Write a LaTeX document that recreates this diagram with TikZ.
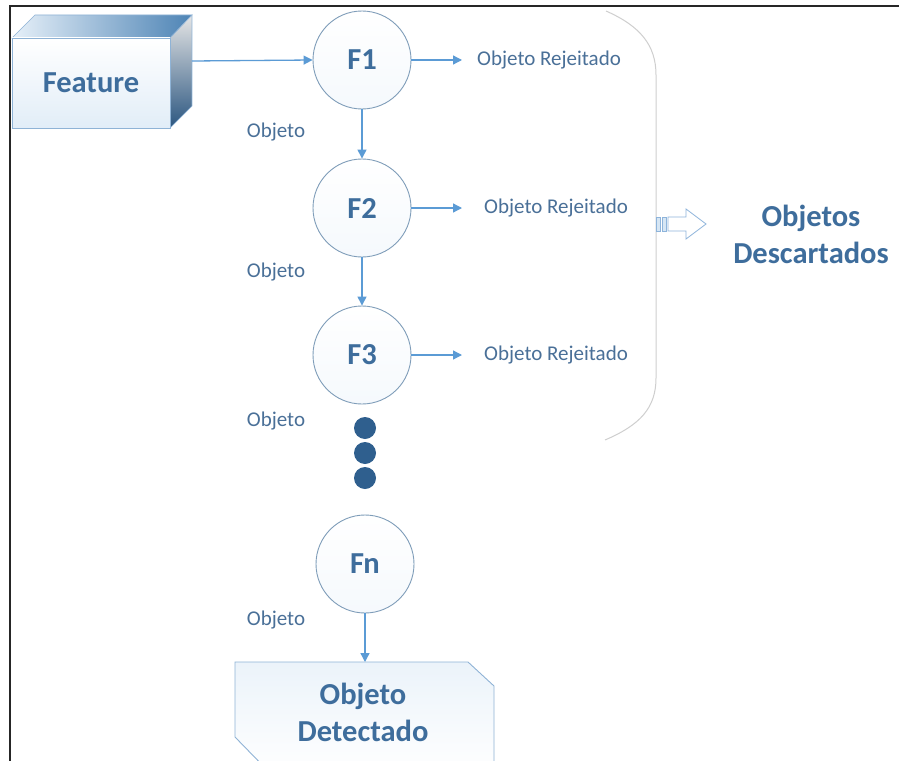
\documentclass[tikz,border=0pt]{standalone}
\usepackage{fontspec}
\setmainfont{Carlito}
\usetikzlibrary{arrows.meta}
\definecolor{txtblue}{HTML}{3E6D9C}
\definecolor{lblblue}{HTML}{4A7098}
\definecolor{linkblue}{HTML}{5B9BD5}
\definecolor{ringgray}{HTML}{7F9DB9}
\definecolor{dotblue}{HTML}{2F5F8E}
\definecolor{bracketgray}{HTML}{CFCFCF}
\definecolor{hollowblue}{HTML}{8EB4DB}
\definecolor{boxedge}{HTML}{8FB3D6}
\tikzset{
  link/.style={draw=linkblue, line width=1.3pt, -{Triangle[length=9pt,width=9pt]}},
  stage/.style={circle, draw=ringgray, line width=0.9pt, minimum size=98pt, inner sep=0pt,
    top color=white, bottom color=white!94!linkblue, text=txtblue,
    font=\fontsize{30.5}{32}\selectfont\bfseries},
  bigtxt/.style={text=txtblue, font=\fontsize{30.5}{37}\selectfont\bfseries, align=center, inner sep=0pt},
  lbl/.style={text=lblblue, font=\fontsize{21}{23}\selectfont, inner sep=0pt},
  dot/.style={circle, fill=dotblue, minimum size=22pt, inner sep=0pt},
}
\begin{document}
\begin{tikzpicture}[x=1pt,y=-1pt]
\useasboundingbox (0,0) rectangle (899,760);
\clip (0,0) rectangle (899,760);
\fill[white] (0,0) rectangle (899,760);

% outer frame (open on the right and at the bottom)
\draw[black!85, line width=1.6pt] (10,770) -- (10,6) -- (905,6);

% Feature block drawn as a shaded 3D box
\shade[left color=white!85!linkblue, right color=linkblue!85!black, draw=boxedge, line width=0.6pt]
  (12,38) -- (35,15) -- (192,15) -- (170,38) -- cycle;
\shade[top color=white!80!gray, bottom color=dotblue!90!black, draw=boxedge, line width=0.6pt]
  (170,38) -- (192,15) -- (192,106) -- (170,128) -- cycle;
\shade[top color=white, bottom color=white!82!linkblue, draw=boxedge, line width=0.6pt]
  (12,38) rectangle (170,128);
\node[bigtxt] (feature) at (91,83) {Feature};
\coordinate (featureout) at (192,61);

% cascade of stages
\node[stage] (F1) at (362,60) {F1};
\node[stage] (F2) at (362,208) {F2};
\node[stage] (F3) at (362,355) {F3};
\node[stage] (Fn) at (365,564) {Fn};

\draw[link] (featureout) -- (F1.west);
\draw[link] (F1.south) -- (F2.north);
\draw[link] (F2.south) -- (F3.north);

% ellipsis dots
\node[dot] (d1) at (365,428) {};
\node[dot] (d2) at (365,453) {};
\node[dot] (d3) at (365,478) {};

% pass labels
\node[lbl] (o1) at (276,132) {Objeto};
\node[lbl] (o2) at (276,272) {Objeto};
\node[lbl] (o3) at (276,421) {Objeto};
\node[lbl] (o4) at (276,620) {Objeto};

% rejection outputs
\node[lbl, anchor=west] (r1) at (477,60) {Objeto Rejeitado};
\node[lbl, anchor=west] (r2) at (484,208) {Objeto Rejeitado};
\node[lbl, anchor=west] (r3) at (484,355) {Objeto Rejeitado};
\draw[link] (F1.east) -- ([xshift=-15pt]r1.west);
\draw[link] (F2.east) -- ([xshift=-22pt]r2.west);
\draw[link] (F3.east) -- ([xshift=-22pt]r3.west);

% bracket gathering the rejected objects
\draw[bracketgray, line width=1pt]
  (606,11) .. controls (640,26) and (656,45) .. (656,75)
  -- (656,378) .. controls (656,408) and (640,425) .. (605,440);

% hollow arrow towards the discarded group
\filldraw[fill=white!75!linkblue, draw=hollowblue, line width=0.7pt] (656,217) rectangle (660,231);
\filldraw[fill=white!75!linkblue, draw=hollowblue, line width=0.7pt] (662,217) rectangle (666,231);
\filldraw[fill=white, draw=hollowblue, line width=0.8pt]
  (668,217) -- (686,217) -- (686,209) -- (706,224) -- (686,239) -- (686,231) -- (668,231) -- cycle;
\node[bigtxt] (descartados) at (811,234) {Objetos\\Descartados};

% final detection output
\shade[top color=white!88!linkblue, bottom color=white, draw=boxedge, line width=0.9pt]
  (235,662) -- (468,662) -- (494,686) -- (494,775) -- (272,775) -- (235,737) -- cycle;
\node[bigtxt] (detectado) at (363,712) {Objeto\\Detectado};
\draw[link] (Fn.south) -- (365,662);
\end{tikzpicture}
\end{document}
